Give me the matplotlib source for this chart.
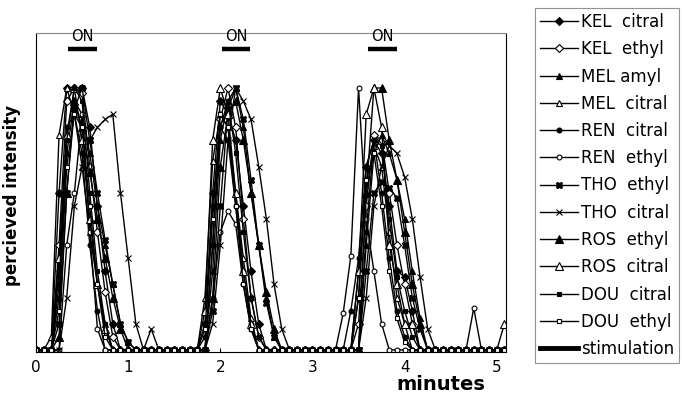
import numpy as np
import matplotlib
matplotlib.use("Agg")
import matplotlib.pyplot as plt
from matplotlib.lines import Line2D

N = 62
time_min = [i / 12 for i in range(N)]

def series(d):
    v = [0.0] * N
    for k, val in d.items():
        v[k] = val
    return v

kel_citral = series({3: 60, 4: 100, 5: 100, 6: 100, 7: 85, 8: 55, 9: 30, 10: 10,
                     22: 10, 23: 60, 24: 95, 25: 90, 26: 80, 27: 55, 28: 30, 29: 10,
                     42: 20, 43: 70, 44: 80, 45: 75, 46: 55, 47: 30, 48: 28, 49: 15})
kel_ethyl = series({3: 40, 4: 95, 5: 100, 6: 98, 7: 70, 8: 45, 9: 22, 10: 5,
                    23: 40, 24: 88, 25: 100, 26: 85, 27: 50, 28: 20, 29: 5,
                    42: 10, 43: 55, 44: 82, 45: 80, 46: 60, 47: 40, 48: 25, 49: 10})
mel_amyl = series({3: 20, 4: 75, 5: 95, 6: 90, 7: 75, 8: 55, 9: 40, 10: 25, 11: 10, 12: 3,
                   23: 30, 24: 80, 25: 95, 26: 100, 27: 85, 28: 60, 29: 40, 30: 20, 31: 5,
                   43: 40, 44: 75, 45: 82, 46: 75, 47: 65, 48: 50, 49: 30, 50: 12})
mel_citral = series({2: 5, 3: 82, 4: 100, 5: 90, 6: 70, 7: 45, 8: 25, 9: 10,
                     22: 20, 23: 72, 24: 90, 25: 85, 26: 60, 27: 35, 28: 12,
                     42: 30, 43: 60, 44: 78, 45: 70, 46: 45, 47: 20, 48: 10})
ren_citral = series({3: 30, 4: 85, 5: 90, 6: 75, 7: 40, 8: 15,
                     22: 5, 23: 55, 24: 85, 25: 80, 26: 55, 27: 30, 28: 10,
                     41: 15, 42: 35, 43: 70, 44: 80, 45: 60, 46: 35, 47: 15, 48: 5})
ren_ethyl = series({4: 40, 5: 60, 6: 90, 7: 45, 8: 8,
                    23: 20, 24: 45, 25: 53, 26: 48, 27: 25, 28: 8,
                    40: 14, 41: 36, 42: 100, 43: 50, 44: 30, 45: 10, 57: 16})
tho_ethyl = series({3: 10, 4: 60, 5: 92, 6: 100, 7: 80, 8: 60, 9: 42, 10: 25, 11: 10, 12: 3,
                    23: 15, 24: 55, 25: 92, 26: 100, 27: 88, 28: 65, 29: 40, 30: 18, 31: 5,
                    43: 30, 44: 60, 45: 64, 46: 62, 47: 58, 48: 40, 49: 20, 50: 8})
tho_citral = series({4: 20, 5: 55, 6: 70, 7: 80, 8: 85, 9: 88, 10: 90, 11: 60, 12: 35, 13: 10, 15: 8,
                     23: 10, 24: 40, 25: 80, 26: 100, 27: 95, 28: 88, 29: 70, 30: 50, 31: 25, 32: 8,
                     43: 20, 44: 55, 45: 70, 46: 78, 47: 75, 48: 66, 49: 50, 50: 28, 51: 8})
ros_ethyl = series({3: 5, 4: 60, 5: 95, 6: 85, 7: 68, 8: 50, 9: 35, 10: 20, 11: 8,
                    23: 20, 24: 70, 25: 90, 26: 95, 27: 80, 28: 60, 29: 40, 30: 22, 31: 8,
                    43: 60, 44: 100, 45: 100, 46: 80, 47: 65, 48: 45, 49: 25, 50: 10})
ros_citral = series({3: 35, 4: 82, 5: 100, 6: 80, 7: 50, 8: 25, 9: 8,
                     22: 15, 23: 80, 24: 100, 25: 90, 26: 60, 27: 30, 28: 10,
                     42: 30, 43: 90, 44: 100, 45: 85, 46: 40, 47: 25, 48: 10, 49: 10, 61: 10})
dou_citral = series({3: 25, 4: 80, 5: 100, 6: 95, 7: 60, 8: 30, 9: 10,
                     23: 40, 24: 85, 25: 95, 26: 75, 27: 45, 28: 20, 29: 5,
                     43: 45, 44: 80, 45: 78, 46: 50, 47: 28, 48: 15, 49: 5})
dou_ethyl = series({3: 15, 4: 70, 5: 90, 6: 85, 7: 55, 8: 25, 9: 5,
                    22: 8, 23: 50, 24: 90, 25: 85, 26: 55, 27: 25, 28: 8,
                    42: 20, 43: 65, 44: 75, 45: 55, 46: 30, 47: 12, 48: 3})

labels = ["KEL  citral", "KEL  ethyl", "MEL amyl", "MEL  citral", "REN  citral",
          "REN  ethyl", "THO  ethyl", "THO  citral", "ROS  ethyl", "ROS  citral",
          "DOU  citral", "DOU  ethyl"]
data = [kel_citral, kel_ethyl, mel_amyl, mel_citral, ren_citral, ren_ethyl,
        tho_ethyl, tho_citral, ros_ethyl, ros_citral, dou_citral, dou_ethyl]

stim_start = [0.35, 2.02, 3.60]
stim_end = [0.66, 2.32, 3.92]
stim_level = 115
x_ticks = [0, 1, 2, 3, 4, 5]

styles = [
    dict(marker="D", ms=4.0, mfc="black"),
    dict(marker="D", ms=4.0, mfc="white"),
    dict(marker="^", ms=4.0, mfc="black"),
    dict(marker="^", ms=4.0, mfc="white"),
    dict(marker="o", ms=3.5, mfc="black"),
    dict(marker="o", ms=3.5, mfc="white"),
    dict(marker="X", ms=4.5, mfc="black"),
    dict(marker="x", ms=4.5, mfc="black"),
    dict(marker="^", ms=6.0, mfc="black"),
    dict(marker="^", ms=6.0, mfc="white"),
    dict(marker="s", ms=3.5, mfc="black"),
    dict(marker="s", ms=3.5, mfc="white"),
]

fig = plt.figure(figsize=(6.82, 3.96), dpi=100)
ax = fig.add_axes([36/682, 1-352/396, (506-36)/682, (352-33)/396])

handles = []
for y, lab, st in zip(data, labels, styles):
    h, = ax.plot(time_min, y, color="black", lw=1.0, mec="black", mew=0.8,
                 label=lab, **st)
    handles.append(h)

for s, e in zip(stim_start, stim_end):
    ax.plot([s, e], [stim_level, stim_level], color="black", lw=3.2, solid_capstyle="butt")
    ax.text((s + e) / 2, stim_level + 1.8, "ON", ha="center", va="bottom", fontsize=10.5)
handles.append(Line2D([], [], color="black", lw=3.5))
labels_all = labels + ["stimulation"]

ax.set_xlim(0, 5.1)
ax.set_ylim(-0.8, 121)
ax.set_xticks(x_ticks)
ax.set_yticks([])
ax.tick_params(axis="x", direction="in", length=3, labelsize=11, pad=6)
for sp in ax.spines.values():
    sp.set_linewidth(0.8)
ax.spines["top"].set_color("#888888")

fig.text(12/682, 1-195/396, "percieved intensity", rotation=90, ha="center",
         va="center", fontsize=12, fontweight="bold")
fig.text(441/682, 1-384/396, "minutes", ha="center", va="center",
         fontsize=14, fontweight="bold")

leg = fig.legend(handles, labels_all, loc="upper left",
                 bbox_to_anchor=(535/682, 1-8/396), frameon=True, fancybox=False,
                 fontsize=12, handlelength=2.3, handletextpad=0.15,
                 labelspacing=0.555, borderpad=0.3, borderaxespad=0)
leg.get_frame().set_edgecolor("#777777")
leg.get_frame().set_linewidth(0.8)

fig.savefig("out.png", dpi=100)
